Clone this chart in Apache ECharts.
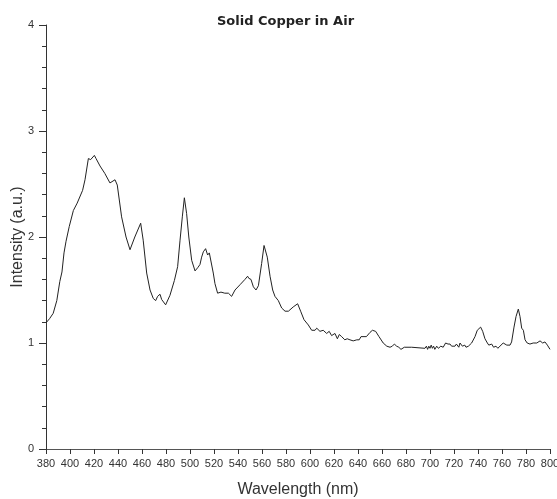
<!DOCTYPE html>
<html>
<head>
<meta charset="utf-8">
<script src="https://cdn.jsdelivr.net/npm/echarts@6/dist/echarts.min.js"></script>
<style>
  html, body { margin: 0; padding: 0; background: #fff; }
</style>
</head>
<body>
<div id="chartDom" style="width: 557px;height: 499px"></div>
<script>
// 波长 (nm)
let wavelength = [
  380, 383, 386, 389, 391.5, 393.3, 395, 396.7, 397.8, 399.4,
  402.8, 406, 410.5, 412.5, 415.3, 417.2, 420.3, 421.7, 425, 429,
  433.3, 434.7, 437.5, 439.4, 443, 446.7, 450, 454, 458.9, 461,
  463.9, 466.7, 469.4, 471.4, 473, 475, 476.4, 477.8, 479.7, 483.3,
  487, 489.7, 491.7, 493.6, 495.3, 496.4, 497.2, 499, 501.4, 504.2,
  506.4, 508.3, 509.7, 511.1, 513, 514.7, 516.1, 517.5, 519.4, 520.8,
  523, 525.8, 529, 530.6, 532, 534.7, 537.5, 541.7, 545.8, 548,
  549, 550.8, 552.8, 555, 557, 559.7, 561.7, 563, 564.4, 566.7,
  568.9, 570.8, 573.6, 576.4, 579.2, 582, 586, 589.7, 592.2, 595,
  598.6, 601.4, 604.2, 605.6, 608.3, 611, 613.9, 616, 618, 620.8,
  622.8, 624.4, 626.4, 629, 631, 633.3, 636, 639, 641, 642.5,
  647, 650, 652, 654.7, 657.5, 661, 664, 666.7, 668.6, 670.3,
  672.2, 674, 675.8, 678.6, 684.7, 686, 695.8, 697, 698, 699,
  700, 701, 702, 703, 704, 705.6, 707, 709, 711, 713,
  715, 716.7, 718, 720.8, 722, 724, 725, 727, 729, 730,
  732, 734.7, 737.5, 739.4, 742.2, 743.9, 745.8, 747.8, 749, 751.4,
  753, 755, 756.5, 758.3, 761, 764, 766.7, 768, 770, 771.7,
  773.6, 775, 776.4, 777.8, 779.2, 781, 783.3, 786, 789, 791.7,
  793.9, 795.8, 797.8, 800
]
// 强度 (a.u.)
let intensity = [
  1.19, 1.23, 1.28, 1.40, 1.58, 1.67, 1.85, 1.96, 1.97, 2.10,
  2.25, 2.32, 2.44, 2.54, 2.74, 2.73, 2.77, 2.74, 2.67, 2.60,
  2.51, 2.51, 2.54, 2.49, 2.19, 2.00, 1.88, 2.00, 2.13, 1.97,
  1.66, 1.50, 1.42, 1.40, 1.44, 1.46, 1.41, 1.42, 1.36, 1.45,
  1.59, 1.72, 1.97, 2.19, 2.37, 2.37, 2.22, 2.00, 1.78, 1.68,
  1.71, 1.74, 1.81, 1.86, 1.89, 1.83, 1.85, 1.85, 1.66, 1.56,
  1.47, 1.48, 1.47, 1.48, 1.47, 1.44, 1.50, 1.55, 1.60, 1.63,
  1.61, 1.60, 1.53, 1.50, 1.54, 1.75, 1.92, 1.93, 1.81, 1.63,
  1.50, 1.44, 1.40, 1.33, 1.30, 1.30, 1.34, 1.37, 1.30, 1.22,
  1.17, 1.12, 1.12, 1.14, 1.11, 1.12, 1.09, 1.11, 1.07, 1.09,
  1.04, 1.08, 1.06, 1.03, 1.04, 1.03, 1.02, 1.03, 1.03, 1.06,
  1.06, 1.10, 1.12, 1.11, 1.06, 1.00, 0.97, 0.96, 0.97, 0.99,
  0.97, 0.96, 0.94, 0.96, 0.96, 0.95, 0.95, 0.97, 0.94, 0.97,
  0.95, 0.98, 0.95, 0.97, 0.94, 0.97, 0.95, 0.97, 0.96, 1.00,
  0.99, 0.99, 0.97, 0.97, 0.99, 0.96, 1.00, 0.97, 0.98, 0.96,
  0.97, 1.00, 1.06, 1.12, 1.15, 1.11, 1.04, 1.00, 0.98, 0.99,
  0.96, 0.97, 0.95, 0.97, 1.00, 0.98, 0.98, 1.01, 1.15, 1.25,
  1.32, 1.25, 1.14, 1.12, 1.03, 1.00, 0.99, 1.00, 1.00, 1.02,
  1.00, 1.01, 0.98, 0.94
]
let xTicks = [380, 800, 20]   // min, max, 间隔
let yTicks = [0, 4, 1]

let data = wavelength.map((w, i) => [w, intensity[i]])

let chart = echarts.init(document.querySelector('#chartDom'))
chart.setOption({
  backgroundColor: '#fff',
  animation: false,
  title: {
    text: 'Solid Copper in Air',
    left: 212,
    top: 10,
    textStyle: {
      fontFamily: 'DejaVu Sans',
      fontSize: 13,
      fontWeight: 'bold',
      color: '#222',
    },
  },
  grid: {
    left: 46,
    right: 7,
    top: 25,
    bottom: 50,
    outerBoundsMode: 'none', // 不要自动缩小绘图区
  },
  xAxis: {
    type: 'value',
    min: xTicks[0],
    max: xTicks[1],
    interval: xTicks[2],
    name: 'Wavelength (nm)',
    nameLocation: 'middle',
    nameGap: 33,
    nameMoveOverlap: false,
    nameTextStyle: { fontFamily: 'Liberation Sans', fontSize: 16, color: '#333' },
    axisLine: { onZero: false, lineStyle: { color: '#555', width: 1 } },
    axisTick: { length: 5, lineStyle: { color: '#333' } },
    axisLabel: { margin: 9, fontFamily: 'Liberation Sans', fontSize: 11, color: '#333' },
    splitLine: { show: false },
  },
  yAxis: {
    type: 'value',
    min: yTicks[0],
    max: yTicks[1],
    interval: yTicks[2],
    name: 'Intensity (a.u.)',
    nameLocation: 'middle',
    nameGap: 20,
    nameMoveOverlap: false, // 名称位置自己定
    nameTextStyle: { fontFamily: 'Liberation Sans', fontSize: 16, color: '#333' },
    axisLine: { show: true, lineStyle: { color: '#333', width: 1 } },
    axisTick: { show: true, length: 7, lineStyle: { color: '#333' } },
    minorTick: { show: true, splitNumber: 5, length: 4, lineStyle: { color: '#333' } },
    axisLabel: { margin: 12, fontFamily: 'Liberation Sans', fontSize: 11, color: '#333' },
    splitLine: { show: false },
  },
  series: [
    {
      type: 'line',
      data: data,
      showSymbol: false,
      lineStyle: { color: '#222', width: 1 },
    },
  ],
})
</script>
</body>
</html>
